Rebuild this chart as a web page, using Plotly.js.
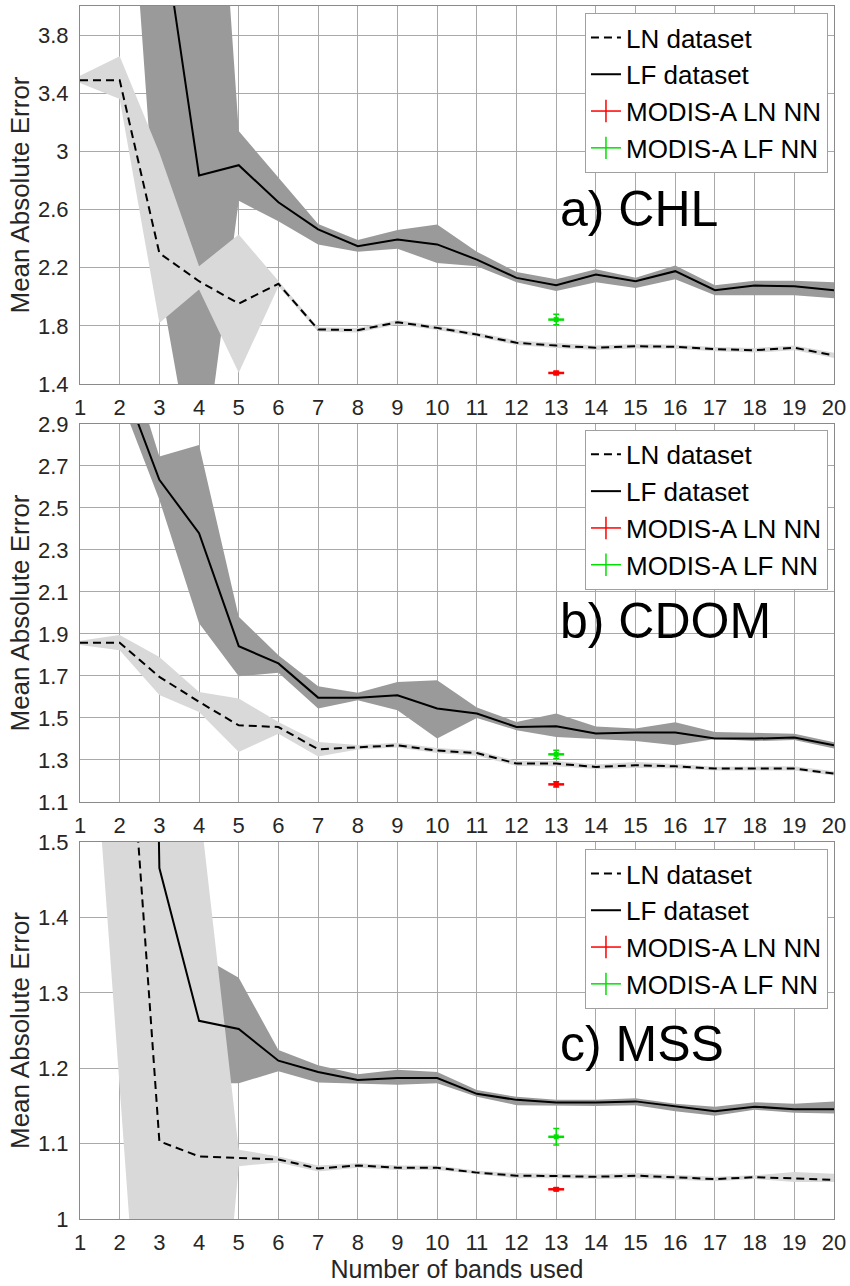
<!DOCTYPE html>
<html><head><meta charset="utf-8">
<script src="https://cdn.plot.ly/plotly-3.0.1.min.js"></script>
<style>html,body{margin:0;padding:0;background:#fff}#chart{width:850px;height:1286px}</style>
</head><body><div id="chart"></div>
<script>
// ---------- data ----------
const bands = [1,2,3,4,5,6,7,8,9,10,11,12,13,14,15,16,17,18,19,20];
const modisBands = 13;

// a) CHL
const chlLN    = [3.49,3.49,2.30,2.107,1.953,2.089,1.775,1.77,1.825,1.786,1.74,1.683,1.664,1.649,1.66,1.656,1.64,1.632,1.649,1.596];
const chlLNUp  = [3.52,3.655,2.99,2.21,2.428,2.11,1.79,1.785,1.84,1.80,1.755,1.70,1.68,1.665,1.675,1.67,1.655,1.648,1.665,1.615];
const chlLNLo  = [3.47,3.36,1.82,2.05,1.477,2.07,1.76,1.755,1.81,1.772,1.725,1.668,1.648,1.634,1.645,1.642,1.625,1.616,1.632,1.578];
const chlLF    = [6.8,6.5,4.69,2.834,2.905,2.65,2.463,2.348,2.394,2.36,2.256,2.13,2.079,2.153,2.107,2.176,2.045,2.077,2.073,2.045];
const chlLFUp  = [7.1,7.0,9.0,7.08,3.14,2.82,2.50,2.39,2.46,2.497,2.31,2.17,2.12,2.19,2.13,2.215,2.08,2.11,2.11,2.10];
const chlLFLo  = [6.5,5.96,2.12,0.59,2.66,2.52,2.36,2.31,2.33,2.233,2.21,2.10,2.04,2.10,2.06,2.12,2.01,2.01,2.01,1.99];
const chlModis = [1.476, 1.843];
const chlModisErr = [0.012, 0.036];

// b) CDOM
const cdomLN   = [1.858,1.858,1.696,1.577,1.465,1.457,1.351,1.362,1.370,1.345,1.333,1.283,1.283,1.267,1.275,1.270,1.259,1.259,1.259,1.235];
const cdomLNUp = [1.868,1.895,1.791,1.624,1.593,1.481,1.386,1.372,1.382,1.357,1.345,1.295,1.295,1.279,1.290,1.281,1.268,1.268,1.270,1.246];
const cdomLNLo = [1.848,1.823,1.609,1.529,1.338,1.425,1.317,1.350,1.360,1.333,1.320,1.272,1.270,1.257,1.262,1.260,1.250,1.250,1.250,1.226];
const cdomLF   = [3.40,3.136,2.634,2.380,1.842,1.760,1.597,1.597,1.608,1.545,1.521,1.457,1.461,1.426,1.431,1.431,1.402,1.402,1.407,1.370];
const cdomLFUp = [3.60,3.35,2.745,2.80,1.982,1.799,1.651,1.620,1.672,1.680,1.550,1.481,1.521,1.460,1.450,1.480,1.433,1.430,1.425,1.385];
const cdomLFLo = [3.20,3.03,2.539,1.951,1.699,1.715,1.545,1.585,1.537,1.402,1.500,1.442,1.409,1.400,1.390,1.370,1.400,1.390,1.395,1.355];
const cdomModis = [1.184, 1.327];
const cdomModisErr = [0.012, 0.02];

// c) MSS
const mssLN    = [2.0,1.85,1.103,1.083,1.081,1.079,1.067,1.071,1.068,1.068,1.0615,1.0575,1.057,1.056,1.0575,1.055,1.053,1.0555,1.054,1.052];
const mssLNUp  = [2.2,2.4,2.6,1.555,1.092,1.083,1.071,1.074,1.071,1.071,1.064,1.061,1.060,1.059,1.061,1.058,1.056,1.058,1.0625,1.060];
const mssLNLo  = [1.90,1.174,0.449,0.487,1.07,1.075,1.063,1.068,1.065,1.065,1.059,1.054,1.054,1.053,1.054,1.052,1.050,1.053,1.049,1.049];
const mssLF    = [5.0,4.5,1.4655,1.2628,1.252,1.210,1.195,1.1845,1.187,1.187,1.166,1.158,1.1545,1.1545,1.156,1.149,1.143,1.149,1.1456,1.1456];
const mssLFUp  = [5.2,4.7,1.50,1.35,1.32,1.224,1.204,1.192,1.198,1.195,1.171,1.162,1.158,1.158,1.160,1.153,1.149,1.155,1.153,1.156];
const mssLFLo  = [4.8,4.3,1.43,1.18,1.18,1.196,1.181,1.179,1.178,1.180,1.162,1.151,1.150,1.150,1.151,1.143,1.137,1.145,1.141,1.140];
const mssModis = [1.0394, 1.109];
const mssModisErr = [0.002, 0.011];

// tick labels / text
const chlTicks  = [1.4,1.8,2.2,2.6,3,3.4,3.8];
const cdomTicks = [1.1,1.3,1.5,1.7,1.9,2.1,2.3,2.5,2.7,2.9];
const mssTicks  = [1,1.1,1.2,1.3,1.4,1.5];
const seriesNames = ['LN dataset','LF dataset','MODIS-A LN NN','MODIS-A LF NN'];
const panelLabels = ['a) CHL','b) CDOM','c) MSS'];
const xTitle = 'Number of bands used';
const yTitle = 'Mean Absolute Error';

// ---------- styling ----------
const FONT = '"Liberation Sans", Arial, Helvetica, sans-serif';
const LIGHT = '#d9d9d9', DARK = '#9a9a9a', RED = '#ff0000', GREEN = '#00e000';
const GRID = '#a9a9a9', FRAME = '#8a8a8a', TXT = '#262626';

const panels = [
  {ln:chlLN, lnUp:chlLNUp, lnLo:chlLNLo, lf:chlLF, lfUp:chlLFUp, lfLo:chlLFLo, mo:chlModis, moErr:chlModisErr,
   ticks:chlTicks, range:[1.4,4.0], dom:[0.68838,1], label:panelLabels[0], labY:2.807, lg:'legend', lgTop:0.9942},
  {ln:cdomLN, lnUp:cdomLNUp, lnLo:cdomLNLo, lf:cdomLF, lfUp:cdomLFUp, lfLo:cdomLFLo, mo:cdomModis, moErr:cdomModisErr,
   ticks:cdomTicks, range:[1.1,2.9], dom:[0.34378,0.65540], label:panelLabels[1], labY:2.105, lg:'legend2', lgTop:0.6505},
  {ln:mssLN, lnUp:mssLNUp, lnLo:mssLNLo, lf:mssLF, lfUp:mssLFUp, lfLo:mssLFLo, mo:mssModis, moErr:mssModisErr,
   ticks:mssTicks, range:[1.0,1.5], dom:[0,0.31080], label:panelLabels[2], labY:1.272, lg:'legend3', lgTop:0.3050}
];

const traces = [];
const layout = {
  width:850, height:1286,
  margin:{l:80, r:16, t:6, b:67},
  paper_bgcolor:'#ffffff', plot_bgcolor:'#ffffff',
  font:{family:FONT, size:22, color:TXT},
  showlegend:true,
  annotations:[]
};

const revBands = bands.slice().reverse();
panels.forEach((p, i) => {
  const n = i === 0 ? '' : String(i + 1);
  const xa = 'x' + n, ya = 'y' + n;
  // bands (LF under LN)
  traces.push({x:bands.concat(revBands), y:p.lfUp.concat(p.lfLo.slice().reverse()), xaxis:xa, yaxis:ya,
    mode:'lines', fill:'toself', fillcolor:DARK, line:{width:0, color:'rgba(0,0,0,0)'}, hoverinfo:'skip', showlegend:false});
  traces.push({x:bands.concat(revBands), y:p.lnUp.concat(p.lnLo.slice().reverse()), xaxis:xa, yaxis:ya,
    mode:'lines', fill:'toself', fillcolor:LIGHT, line:{width:0, color:'rgba(0,0,0,0)'}, hoverinfo:'skip', showlegend:false});
  // lines
  traces.push({x:bands, y:p.ln, xaxis:xa, yaxis:ya, mode:'lines', name:seriesNames[0], legend:p.lg,
    line:{color:'#000', width:2, dash:'8px,5px'}});
  traces.push({x:bands, y:p.lf, xaxis:xa, yaxis:ya, mode:'lines', name:seriesNames[1], legend:p.lg,
    line:{color:'#000', width:2}});
  // MODIS points
  [RED, GREEN].forEach((c, k) => {
    traces.push({x:[modisBands], y:[p.mo[k]], xaxis:xa, yaxis:ya, mode:'markers', showlegend:false,
      marker:{color:c, size:5, symbol:'square'},
      error_y:{type:'data', array:[p.moErr[k]], color:c, thickness:1.5, width:3},
      error_x:{type:'data', array:[0.2], color:c, thickness:2.5, width:0}});
  });
  // legend-only entries for MODIS
  [RED, GREEN].forEach((c, k) => {
    traces.push({x:[null], y:[null], xaxis:xa, yaxis:ya, mode:'lines+markers', name:seriesNames[2 + k], legend:p.lg,
      line:{color:c, width:1.5}, marker:{symbol:'line-ns-open', size:16, color:c, line:{color:c, width:1.5}}});
  });

  layout['xaxis' + n] = {
    domain:[0,1], anchor:ya, range:[1,20], tickvals:bands, ticks:'', showgrid:true, gridcolor:GRID, gridwidth:1,
    showline:true, linecolor:FRAME, linewidth:1, mirror:true, zeroline:false,
    tickfont:{size:22, color:TXT, family:FONT}, ticklabelstandoff:4,
    title: i === 2 ? {text:xTitle, font:{size:25, color:TXT, family:FONT}, standoff:6} : {text:''}
  };
  layout['yaxis' + n] = {
    domain:p.dom, anchor:xa, range:p.range, tickvals:p.ticks, ticks:'', showgrid:true, gridcolor:GRID, gridwidth:1,
    showline:true, linecolor:FRAME, linewidth:1, mirror:true, zeroline:false,
    tickfont:{size:22, color:TXT, family:FONT}, ticklabelstandoff:6,
    title:{text:yTitle, font:{size:26, color:TXT, family:FONT}, standoff:0}
  };
  layout[p.lg] = {
    x:0.992, xanchor:'right', y:p.lgTop, yanchor:'top', xref:'paper', yref:'paper',
    bgcolor:'#ffffff', bordercolor:'#a0a0a0', borderwidth:1, traceorder:'normal',
    font:{size:26, color:'#000', family:FONT}
  };
  layout.annotations.push({xref:xa, yref:ya, x:13.05, y:p.labY, text:p.label, showarrow:false,
    xanchor:'left', yanchor:'top', font:{size:50, color:'#000', family:FONT}});
});

Plotly.newPlot('chart', traces, layout, {displayModeBar:false, staticPlot:true});
</script>
</body></html>
